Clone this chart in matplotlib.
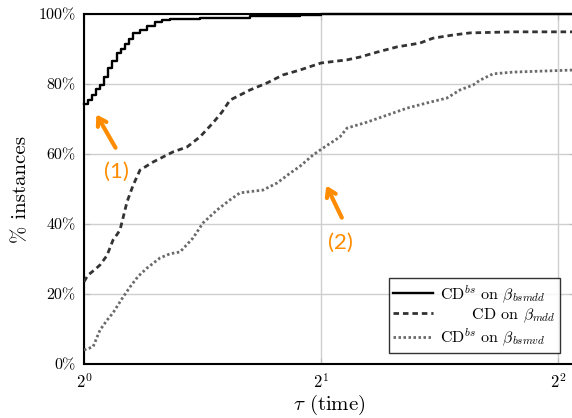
import matplotlib
matplotlib.use("Agg")
import matplotlib.pyplot as plt
from matplotlib.ticker import FixedLocator, FuncFormatter, NullLocator

plt.rcParams.update({
    "font.family": "serif",
    "font.serif": ["cmr10"],
    "mathtext.fontset": "cm",
    "axes.formatter.use_mathtext": True,
    "axes.unicode_minus": False,
})

# Performance profiles: tau (time ratio) vs. % of instances solved
tau_bsmdd = [1.0, 1.0118, 1.0237, 1.0357, 1.0479, 1.0602, 1.0727, 1.0854, 1.1014,
             1.1142, 1.1274, 1.1407, 1.1541, 1.1779, 1.2023, 1.2308, 1.2563, 1.2861,
             1.4039, 1.6251, 1.8809, 2.0, 4.2]
pct_bsmdd = [74.3, 75.5, 77.0, 78.5, 79.7, 82.0, 84.5, 86.5, 88.9,
             90.0, 91.5, 93.0, 94.6, 95.5, 96.5, 97.7, 98.3, 98.6,
             99.0, 99.3, 99.7, 100.0, 100.0]

tau_mdd = [1.0, 1.0118, 1.0327, 1.0479, 1.0695, 1.0885, 1.1014, 1.1110, 1.1208,
           1.1340, 1.1541, 1.1779, 1.2236, 1.2974, 1.3516, 1.4039, 1.4583, 1.4973,
           1.5327, 1.6251, 1.7079, 1.7898, 1.8809, 2.0, 2.1581, 2.2418, 2.3561,
           2.4980, 2.6718, 2.7754, 2.9424, 3.0923, 3.5067, 4.1919]
pct_mdd = [23.5, 25.4, 27.0, 28.3, 31.0, 35.4, 37.0, 38.3, 41.7,
           46.3, 51.0, 55.4, 57.7, 60.6, 62.0, 64.9, 68.9, 72.0,
           75.4, 78.3, 80.3, 82.6, 84.0, 86.0, 86.9, 87.7, 89.1,
           90.6, 91.7, 93.1, 94.0, 94.6, 94.9, 94.9]

tau_bsmvd = [1.0, 1.0267, 1.0479, 1.0695, 1.0885, 1.1208, 1.1440, 1.1710, 1.2023,
             1.2489, 1.2861, 1.3241, 1.3755, 1.4163, 1.4755, 1.5327, 1.5781, 1.6879,
             1.7583, 1.8265, 1.8809, 1.9535, 2.0117, 2.1143, 2.1581, 2.2881, 2.4259,
             2.5717, 2.7272, 2.8912, 3.0031, 3.1197, 3.1841, 3.3078, 3.5067, 4.1919]
pct_bsmvd = [4.0, 4.9, 9.7, 12.5, 14.6, 19.1, 22.0, 25.0, 27.4,
             30.3, 31.5, 32.0, 36.0, 40.3, 44.0, 46.9, 48.9, 49.7,
             51.7, 54.5, 56.5, 59.7, 61.7, 64.9, 67.4, 69.1, 71.1,
             73.1, 74.6, 76.0, 78.3, 79.7, 81.1, 82.9, 83.4, 84.0]

legend_labels = [r"CD$^{bs}$ on $\beta_{bsmdd}$",
                 r"      CD on $\beta_{mdd}$",
                 r"CD$^{bs}$ on $\beta_{bsmvd}$"]
x_ticks = [1, 2, 4]
x_ticklabels = [r"$2^0$", r"$2^1$", r"$2^2$"]
y_ticks = [0, 20, 40, 60, 80, 100]

fig = plt.figure(figsize=(5.72, 4.18), dpi=100)
ax = fig.add_axes([84 / 572, 1 - 364 / 418, (575 - 84) / 572, 350 / 418])

ax.plot(tau_bsmdd, pct_bsmdd, color="black", lw=1.7, drawstyle="steps-post",
        label=legend_labels[0], clip_on=False, zorder=4)
ax.plot(tau_mdd, pct_mdd, color="#333333", lw=2.0, linestyle=(0, (2.0, 1.4)),
        label=legend_labels[1], zorder=3)
ax.plot(tau_bsmvd, pct_bsmvd, color="#6a6a6a", lw=2.0, linestyle=(0, (0.9, 0.9)),
        label=legend_labels[2], zorder=3)

ax.set_xscale("log", base=2)
ax.set_xlim(1, 2 ** ((575 - 84) / 237))
ax.set_ylim(0, 100)
ax.xaxis.set_major_locator(FixedLocator(x_ticks))
ax.xaxis.set_minor_locator(NullLocator())
ax.set_xticklabels(x_ticklabels, fontsize=12)
ax.yaxis.set_major_locator(FixedLocator(y_ticks))
ax.yaxis.set_major_formatter(FuncFormatter(lambda v, p: f"{int(v)}%"))
ax.tick_params(axis="y", labelsize=11.5, direction="in", length=4, color="#bbbbbb",
               right=True, pad=6)
ax.tick_params(axis="x", direction="in", length=4, color="#bbbbbb", top=True, pad=6)

ax.grid(True, color="#cfcfcf", lw=1.0)
ax.set_axisbelow(True)
for side in ("left", "bottom", "top"):
    ax.spines[side].set_linewidth(1.5)
    ax.spines[side].set_color("black")
ax.spines["right"].set_linewidth(1.0)

ax.set_xlabel(r"$\tau$ (time)", fontsize=15, labelpad=1)
ax.set_ylabel(r"% instances", fontsize=15, labelpad=6)

leg = ax.legend(loc="lower right", bbox_to_anchor=((560 - 84) / 491, (364 - 353) / 350),
                fontsize=11.5, frameon=True, fancybox=False, edgecolor="black",
                handlelength=2.5, handletextpad=0.4, borderpad=0.3,
                labelspacing=0.1, borderaxespad=0)
leg.get_frame().set_linewidth(1.0)

orange = "#FF8C00"
arrow = dict(arrowstyle="->,head_length=0.55,head_width=0.35", color=orange, lw=3)
ax.annotate("", xy=(1.0327, 72.0), xytext=(1.101, 61.1), arrowprops=arrow)
ax.text(1.101, 54.9, "(1)", color=orange, fontsize=16, family="Lato",
        ha="center", va="center")
ax.annotate("", xy=(2.024, 51.7), xytext=(2.133, 41.1), arrowprops=arrow)
ax.text(2.114, 34.6, "(2)", color=orange, fontsize=16, family="Lato",
        ha="center", va="center")

fig.savefig("out.png", dpi=100)
